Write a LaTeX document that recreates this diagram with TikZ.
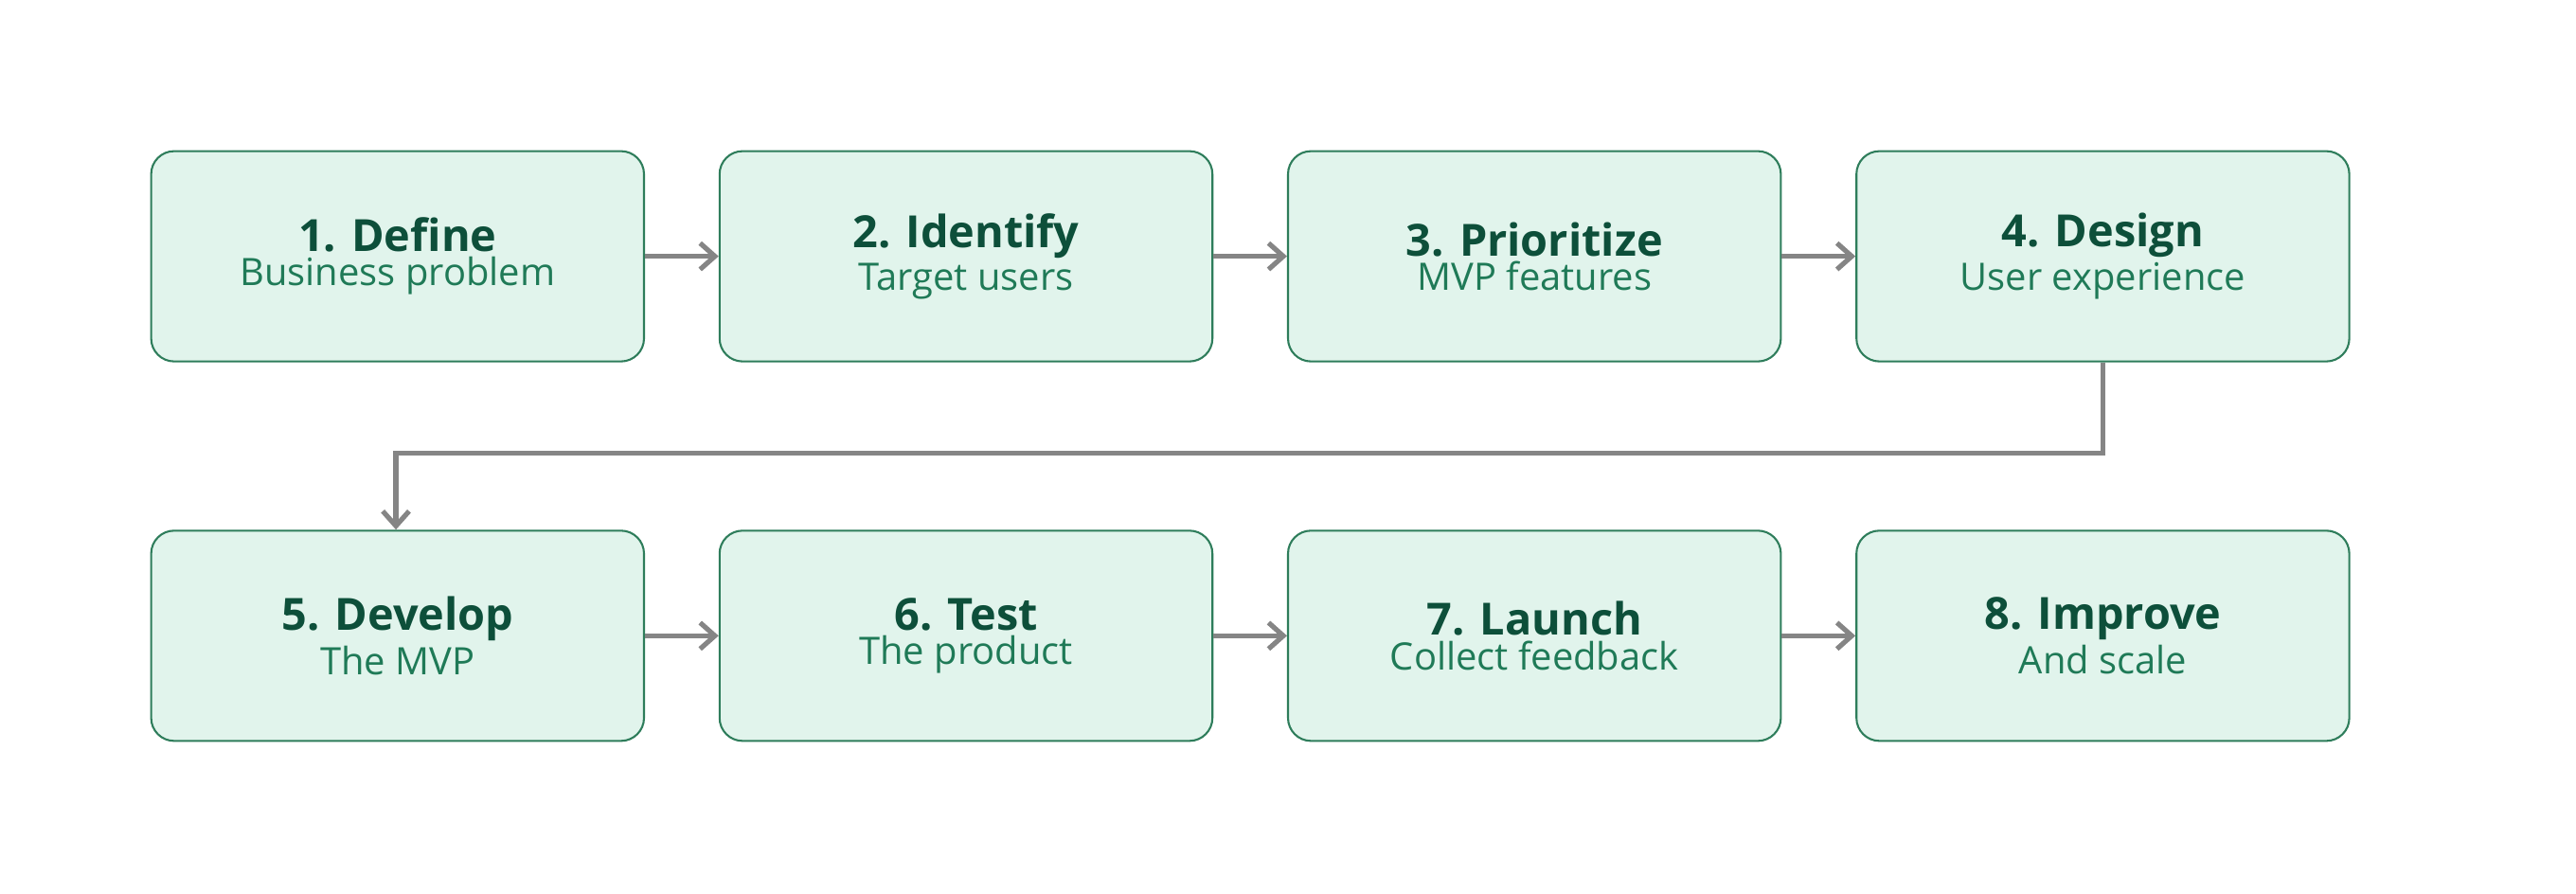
\documentclass[tikz,border=0pt]{standalone}
\usepackage{fontspec}
\setmainfont{Open Sans}
\usetikzlibrary{arrows.meta}
\definecolor{boxfill}{HTML}{E1F4EC}
\definecolor{boxdraw}{HTML}{2E7D5B}
\definecolor{ttl}{HTML}{0D4F3A}
\definecolor{sub}{HTML}{1F7A57}
\definecolor{arr}{HTML}{858585}
\begin{document}
\begin{tikzpicture}[x=1pt,y=-1pt,
  box/.style={draw=boxdraw,line width=1.2pt,fill=boxfill,rounded corners=14pt,minimum width=300pt,minimum height=128pt,inner sep=0pt,align=center},
  conn/.style={draw=arr,line width=3pt,-{Straight Barb[length=9pt,width=16pt,line width=3pt]}}]
\useasboundingbox (0,0) rectangle (1568,544);
\newcommand{\bx}[5]{\node[box] (#1) at (#2,#3) {\fontsize{27}{32}\selectfont\bfseries\color{ttl}#4\\[2pt]\fontsize{23}{28}\selectfont\color{sub}#5};}
\bx{n1}{242}{156}{1. Define}{Business problem}
\bx{n2}{588}{156}{2. Identify}{Target users}
\bx{n3}{934}{156}{3. Prioritize}{MVP features}
\bx{n4}{1280}{156}{4. Design}{User experience}
\bx{n5}{242}{387}{5. Develop}{The MVP}
\bx{n6}{588}{387}{6. Test}{The product}
\bx{n7}{934}{387}{7. Launch}{Collect feedback}
\bx{n8}{1280}{387}{8. Improve}{And scale}
\draw[conn] (n1) -- (n2);
\draw[conn] (n2) -- (n3);
\draw[conn] (n3) -- (n4);
\draw[conn] (n5) -- (n6);
\draw[conn] (n6) -- (n7);
\draw[conn] (n7) -- (n8);
\coordinate (c1) at (1280,276);
\coordinate (c2) at (241,276);
\draw[conn] (n4.south) -- (c1) -- (c2) -- (n5.north -| c2);
\end{tikzpicture}
\end{document}
